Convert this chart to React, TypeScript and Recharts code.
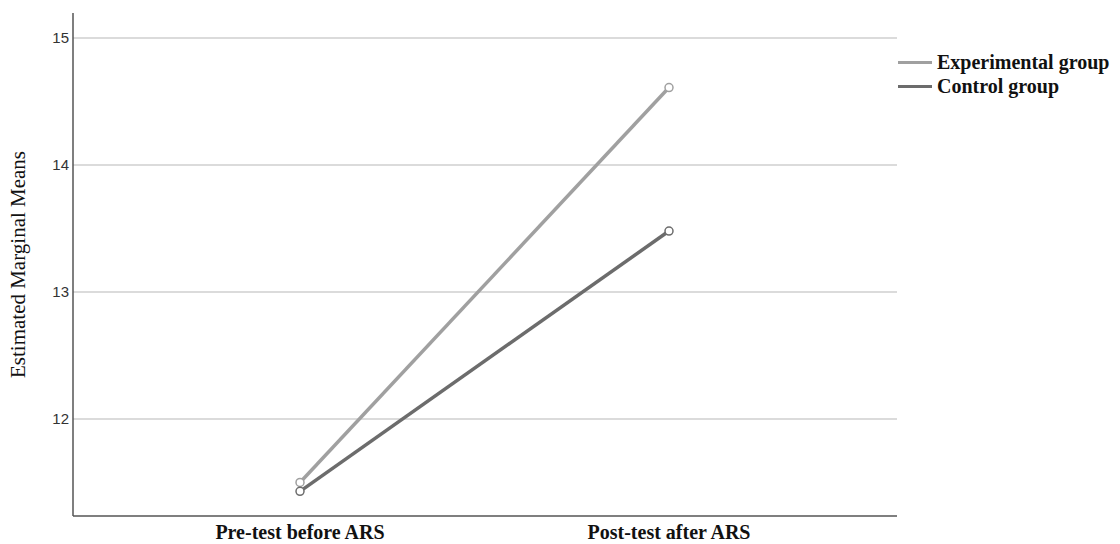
import { CartesianGrid, Line, LineChart, XAxis, YAxis } from "recharts";

const phases = ["Pre-test before ARS", "Post-test after ARS"];
const experimentalMeans = [11.5, 14.61];
const controlMeans = [11.43, 13.48];
const yTicks = [12, 13, 14, 15];

const data = phases.map((phase, i) => ({
  phase,
  experimental: experimentalMeans[i],
  control: controlMeans[i],
}));

const serif = "'Liberation Serif', 'DejaVu Serif', serif";

function XTick(props: any) {
  const { x, y, payload } = props;
  return (
    <text
      x={x}
      y={y + 15}
      textAnchor="middle"
      fontFamily={serif}
      fontWeight="bold"
      fontSize={20}
      fill="#111"
    >
      {payload.value}
    </text>
  );
}

function YTick(props: any) {
  const { x, y, payload } = props;
  return (
    <text
      x={x + 4}
      y={y + 5}
      textAnchor="end"
      fontFamily="'Liberation Sans', Arial, sans-serif"
      fontSize={15}
      fill="#333"
    >
      {payload.value}
    </text>
  );
}

const legendItems = [
  { label: "Experimental group", color: "#a0a0a0" },
  { label: "Control group", color: "#6c6c6c" },
];

export default function App() {
  return (
    <div style={{ position: "absolute", left: 0, top: 0, width: 1120, height: 544, background: "#fff" }}>
      <LineChart
        width={1120}
        height={544}
        data={data}
        margin={{ top: 13, right: 223, left: 0, bottom: 0 }}
      >
        <CartesianGrid
          vertical={false}
          stroke="#cfcfcf"
          strokeWidth={1.5}
          horizontalValues={yTicks}
        />
        <XAxis
          dataKey="phase"
          height={28}
          padding={{ left: 227, right: 228 }}
          tick={<XTick />}
          tickLine={false}
          axisLine={{ stroke: "#555", strokeWidth: 1.5 }}
          interval={0}
        />
        <YAxis
          width={73}
          type="number"
          domain={[11.236, 15.197]}
          ticks={yTicks}
          allowDataOverflow
          tick={<YTick />}
          tickLine={false}
          axisLine={{ stroke: "#555", strokeWidth: 1.5 }}
          label={{
            value: "Estimated Marginal Means",
            angle: -90,
            position: "insideLeft",
            dx: 13,
            style: { textAnchor: "middle", fontFamily: serif, fontSize: 21, fill: "#111" },
          }}
        />
        <Line
          type="linear"
          dataKey="experimental"
          name="Experimental group"
          stroke="#a0a0a0"
          strokeWidth={3.5}
          dot={{ r: 4, stroke: "#a0a0a0", strokeWidth: 1.5, fill: "#fff" }}
          isAnimationActive={false}
        />
        <Line
          type="linear"
          dataKey="control"
          name="Control group"
          stroke="#6c6c6c"
          strokeWidth={3.5}
          dot={{ r: 4, stroke: "#6c6c6c", strokeWidth: 1.5, fill: "#fff" }}
          isAnimationActive={false}
        />
      </LineChart>
      <div
        style={{
          position: "absolute",
          left: 898,
          top: 50,
          fontFamily: serif,
          fontWeight: "bold",
          fontSize: 20,
          color: "#111",
        }}
      >
        {legendItems.map((it) => (
          <div key={it.label} style={{ display: "flex", alignItems: "center", height: 24 }}>
            <span
              style={{
                display: "inline-block",
                width: 34,
                height: 3,
                background: it.color,
                marginRight: 5,
              }}
            />
            {it.label}
          </div>
        ))}
      </div>
    </div>
  );
}
